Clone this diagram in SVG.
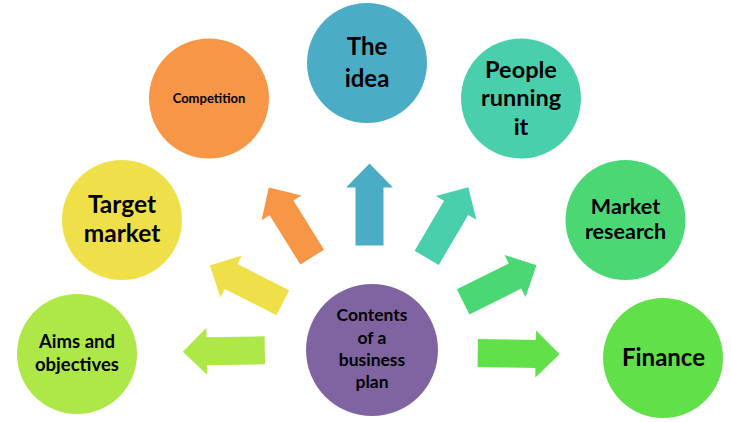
<svg xmlns="http://www.w3.org/2000/svg" xmlns:xlink="http://www.w3.org/1999/xlink" width="731" height="422" viewBox="0 0 731 422">
  <style>
    .lbl { font-family: Lato, "Liberation Sans", sans-serif; font-weight: 700; fill: #000; text-anchor: middle; }
  </style>
  <defs>
    <!-- block arrow centred on the origin, pointing along +x -->
    <path id="arrow" d="M-41,-14 H17 V-23.5 L41,0 L17,23.5 V14 H-41 Z"/>
  </defs>
  <rect width="731" height="422" fill="#fff"/>

  <g id="connectors">
    <use href="#arrow" xlink:href="#arrow" fill="#ADE748" transform="translate(223.8,351) rotate(179)"/>
    <use href="#arrow" xlink:href="#arrow" fill="#EFE04A" transform="translate(246.3,284.2) rotate(-153)"/>
    <use href="#arrow" xlink:href="#arrow" fill="#F79646" transform="translate(290.5,222.3) rotate(-122)"/>
    <use href="#arrow" xlink:href="#arrow" fill="#4BACC6" transform="translate(369.5,204.5) rotate(-90)"/>
    <use href="#arrow" xlink:href="#arrow" fill="#4ACFAD" transform="translate(447.5,222.5) rotate(-59.5)"/>
    <use href="#arrow" xlink:href="#arrow" fill="#4BD874" transform="translate(499.8,283.6) rotate(-26.5)"/>
    <use href="#arrow" xlink:href="#arrow" fill="#62E04A" transform="translate(518.7,353.6) rotate(1)"/>
  </g>

  <g id="contents">
    <circle cx="372" cy="350" r="66" fill="#8064A2"/>
    <text class="lbl" font-size="17.5" x="372" y="321">Contents</text>
    <text class="lbl" font-size="17.5" x="372" y="344">of a</text>
    <text class="lbl" font-size="17.5" x="372" y="366">business</text>
    <text class="lbl" font-size="17.5" x="372" y="388">plan</text>
  </g>

  <g id="aims">
    <circle cx="77" cy="354" r="60" fill="#ADE748"/>
    <text class="lbl" font-size="18.5" x="77" y="348">Aims and</text>
    <text class="lbl" font-size="18.5" x="77" y="371">objectives</text>
  </g>

  <g id="target-market">
    <circle cx="122" cy="220" r="60" fill="#EFE04A"/>
    <text class="lbl" font-size="24.5" x="122" y="213">Target</text>
    <text class="lbl" font-size="24.5" x="122" y="242">market</text>
  </g>

  <g id="competition">
    <circle cx="209" cy="98.5" r="60" fill="#F79646"/>
    <text class="lbl" font-size="13" x="209" y="103">Competition</text>
  </g>

  <g id="idea">
    <circle cx="367" cy="63" r="60" fill="#4BACC6"/>
    <text class="lbl" font-size="24" x="367" y="55">The</text>
    <text class="lbl" font-size="24" x="367" y="87">idea</text>
  </g>

  <g id="people">
    <circle cx="521" cy="98.5" r="60" fill="#4ACFAD"/>
    <text class="lbl" font-size="23.5" x="521" y="78">People</text>
    <text class="lbl" font-size="23.5" x="521" y="106">running</text>
    <text class="lbl" font-size="23.5" x="521" y="135">it</text>
  </g>

  <g id="market-research">
    <circle cx="625.5" cy="220" r="60" fill="#4BD874"/>
    <text class="lbl" font-size="21.5" x="625.5" y="214">Market</text>
    <text class="lbl" font-size="21.5" x="625.5" y="239">research</text>
  </g>

  <g id="finance">
    <circle cx="663" cy="358" r="60" fill="#62E04A"/>
    <text class="lbl" font-size="24" x="663.5" y="366">Finance</text>
  </g>
</svg>
